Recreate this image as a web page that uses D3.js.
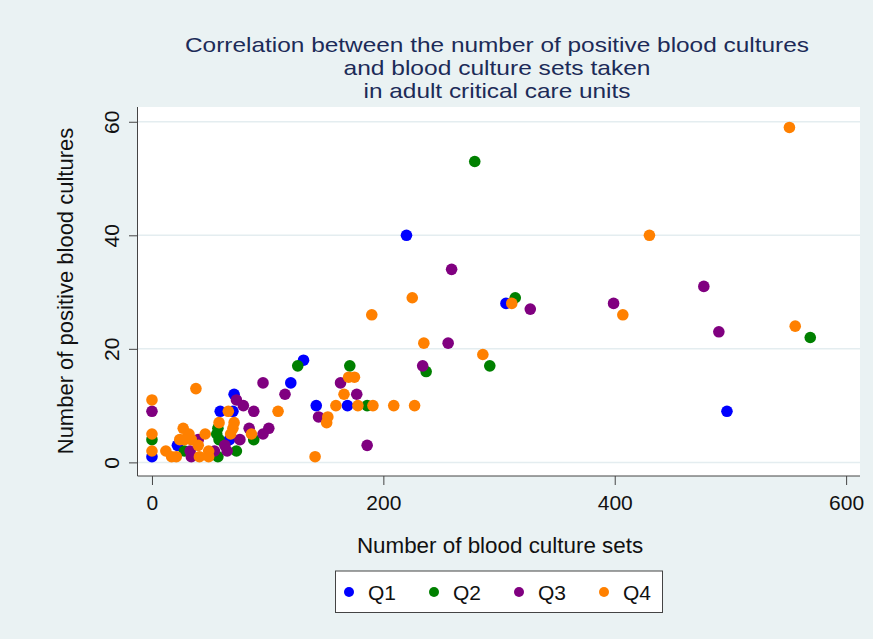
<!doctype html>
<html>
<head>
<script src="https://d3js.org/d3.v7.min.js"></script>
<style>
body { margin: 0; background: #eaf2f3; }
svg text { font-family: "Liberation Sans", Arial, sans-serif; }
</style>
</head>
<body>
<svg width="873" height="639"></svg>
<script>

// values: [blood culture sets, positive cultures]
const seriesNames = ["Q1", "Q2", "Q3", "Q4"];
const seriesColors = ["#0000ff", "#008000", "#800080", "#ff8000"];

const q1 = [[0,1],[22,3],[59,9],[70,9],[71,12],[67,4],[120,14],[131,18],[142,10],[169,10],[220,40],[306,28],[497,9]];
const q2 = [[0,4],[28,2],[57,6],[56,5],[58,4],[73,2],[57,1],[88,4],[126,17],[171,17],[186,10],[237,16],[279,53],[292,17],[314,29],[569,22]];
const q3 = [[0,9],[33,2],[34,1],[40,4],[54,2],[63,3],[65,2],[73,11],[76,4],[79,10],[84,6],[88,9],[96,14],[96,5],[101,6],[115,12],[144,8],[163,14],[177,12],[186,3],[234,17],[256,21],[259,34],[327,27],[399,28],[477,31],[490,23]];
const q4 = [[0,11],[0,5],[0,2],[12,2],[17,1],[21,1],[24,4],[27,6],[28,4],[32,5],[34,4],[38,13],[40,3],[41,1],[46,5],[49,2],[49,1],[58,7],[66,9],[68,5],[70,6],[71,7],[86,5],[109,9],[141,1],[151,7],[152,8],[159,10],[166,12],[170,15],[175,15],[178,10],[190,26],[191,10],[209,10],[225,29],[227,10],[235,21],[286,19],[311,28],[407,26],[430,40],[551,59],[556,24]];

const xTicks = [0, 200, 400, 600];
const yTicks = [0, 20, 40, 60];
const titleLines = [
	"Correlation between the number of positive blood cultures",
	"and blood culture sets taken",
	"in adult critical care units"
];
const titleWidths = [624, 307, 267];
const xTitle = "Number of blood culture sets";
const yTitle = "Number of positive blood cultures";

const series = [q1, q2, q3, q4];

var svg = d3.select("svg");
var plot = {left: 137.5, right: 860, top: 107, bottom: 476};

var x = d3.scaleLinear().domain([-12.5, 612]).range([plot.left, plot.right]);
var y = d3.scaleLinear().domain([-2.4, 62.6]).range([plot.bottom, plot.top]);

svg.append("rect")
	.attr("width", 873).attr("height", 639)
	.attr("fill", "#eaf2f3");

svg.append("rect")
	.attr("x", plot.left).attr("y", plot.top)
	.attr("width", plot.right - plot.left)
	.attr("height", plot.bottom - plot.top)
	.attr("fill", "#ffffff");

// grid
svg.append("g").selectAll("line").data(yTicks).enter().append("line")
	.attr("x1", plot.left).attr("x2", plot.right)
	.attr("y1", d => y(d)).attr("y2", d => y(d))
	.attr("stroke", "#e4edf0").attr("stroke-width", 1.5);

// title
svg.append("g").selectAll("text").data(titleLines).enter().append("text")
	.attr("x", 497).attr("y", (d, i) => 52 + i * 23)
	.attr("text-anchor", "middle")
	.attr("font-size", 21)
	.attr("textLength", (d, i) => titleWidths[i])
	.attr("lengthAdjust", "spacingAndGlyphs")
	.attr("fill", "#1c2b58")
	.text(d => d);

// axes
var xAxis = svg.append("g")
	.attr("transform", "translate(0," + plot.bottom + ")")
	.call(d3.axisBottom(x).tickValues(xTicks).tickSize(9).tickPadding(10));
var yAxis = svg.append("g")
	.attr("transform", "translate(" + plot.left + ",0)")
	.call(d3.axisLeft(y).tickValues(yTicks).tickSize(8.5));

[xAxis, yAxis].forEach(function(a) {
	a.select(".domain").remove();
	a.selectAll("line").attr("stroke", "#444");
	a.selectAll("text").attr("font-size", 21).attr("fill", "#111")
		.attr("font-family", "Liberation Sans, Arial, sans-serif");
});
yAxis.selectAll(".tick text")
	.attr("transform", "rotate(-90)")
	.attr("x", 0).attr("y", -19).attr("dy", 0)
	.attr("text-anchor", "middle");

svg.append("line")
	.attr("x1", plot.left).attr("x2", plot.left)
	.attr("y1", plot.top).attr("y2", plot.bottom)
	.attr("stroke", "#444");
svg.append("line")
	.attr("x1", plot.left).attr("x2", plot.right)
	.attr("y1", plot.bottom).attr("y2", plot.bottom)
	.attr("stroke", "#444");

// axis titles
svg.append("text")
	.attr("x", 500).attr("y", 553)
	.attr("text-anchor", "middle")
	.attr("font-size", 22.4).attr("fill", "#111")
	.text(xTitle);
svg.append("text")
	.attr("transform", "translate(73,291) rotate(-90)")
	.attr("text-anchor", "middle")
	.attr("font-size", 22).attr("fill", "#111")
	.text(yTitle);

// points
series.forEach(function(pts, i) {
	svg.append("g").selectAll("circle").data(pts).enter().append("circle")
		.attr("cx", p => x(p[0]))
		.attr("cy", p => y(p[1]))
		.attr("r", 5.8)
		.attr("fill", seriesColors[i]);
});

// legend
var legend = svg.append("g");
legend.append("rect")
	.attr("x", 335.5).attr("y", 571)
	.attr("width", 327).attr("height", 41.5)
	.attr("fill", "#ffffff").attr("stroke", "#444");
var item = legend.selectAll("g.item").data(seriesNames).enter().append("g")
	.attr("transform", (d, i) => "translate(" + (349 + i * 85) + ",592)");
item.append("circle").attr("r", 5).attr("fill", (d, i) => seriesColors[i]);
item.append("text")
	.attr("x", 19).attr("y", 7.5)
	.attr("font-size", 21).attr("fill", "#111")
	.text(d => d);

</script>
</body>
</html>
